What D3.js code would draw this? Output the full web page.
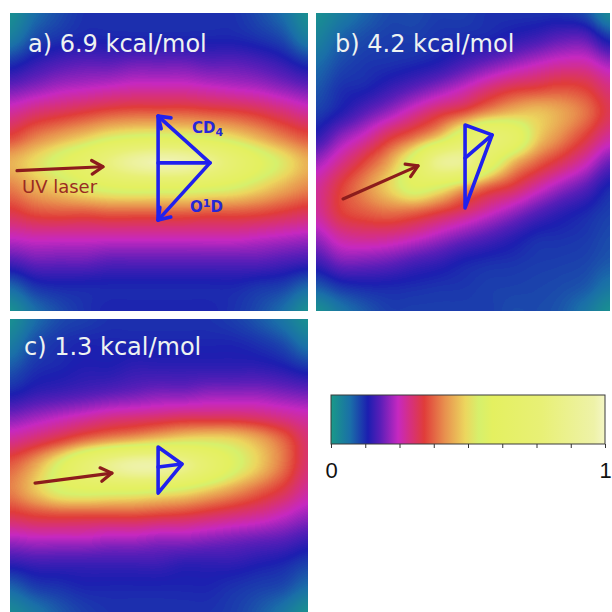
<!DOCTYPE html>
<html><head><meta charset="utf-8">
<script src="https://cdn.jsdelivr.net/npm/d3@7"></script>
<style>html,body{margin:0;padding:0;background:#fff;} svg{display:block;}</style>
</head><body>
<svg id="chart" width="612" height="612"></svg>
<script>
// ---------- data: normalised intensity (13 x 13 samples, rows top->bottom) ----------
const gridA = [
 [0.02,0.07,0.10,0.12,0.12,0.12,0.12,0.12,0.12,0.12,0.10,0.07,0.02],
 [0.05,0.10,0.12,0.13,0.13,0.13,0.13,0.13,0.13,0.13,0.12,0.10,0.05],
 [0.12,0.15,0.17,0.18,0.18,0.19,0.19,0.19,0.18,0.18,0.17,0.15,0.12],
 [0.19,0.21,0.23,0.24,0.25,0.26,0.26,0.26,0.25,0.24,0.23,0.21,0.19],
 [0.27,0.30,0.32,0.34,0.36,0.37,0.37,0.37,0.36,0.35,0.33,0.30,0.27],
 [0.35,0.40,0.44,0.48,0.53,0.56,0.57,0.56,0.54,0.50,0.45,0.40,0.36],
 [0.45,0.50,0.57,0.66,0.80,0.92,0.98,0.96,0.86,0.72,0.60,0.52,0.45],
 [0.40,0.45,0.49,0.54,0.58,0.60,0.60,0.60,0.58,0.55,0.50,0.45,0.41],
 [0.33,0.36,0.37,0.37,0.38,0.38,0.38,0.38,0.37,0.37,0.36,0.34,0.32],
 [0.25,0.26,0.26,0.26,0.26,0.26,0.26,0.26,0.26,0.26,0.25,0.24,0.23],
 [0.17,0.19,0.19,0.19,0.18,0.18,0.18,0.18,0.18,0.18,0.18,0.17,0.16],
 [0.08,0.12,0.13,0.13,0.13,0.13,0.13,0.13,0.13,0.13,0.12,0.11,0.08],
 [0.02,0.07,0.10,0.12,0.13,0.13,0.13,0.13,0.13,0.12,0.10,0.07,0.02]
];
const gridB = [
 [0.02,0.05,0.08,0.10,0.10,0.11,0.11,0.12,0.12,0.12,0.12,0.10,0.03],
 [0.04,0.08,0.10,0.11,0.11,0.12,0.125,0.13,0.145,0.16,0.18,0.18,0.12],
 [0.07,0.10,0.115,0.12,0.127,0.14,0.165,0.19,0.215,0.24,0.26,0.26,0.22],
 [0.09,0.12,0.13,0.154,0.18,0.21,0.245,0.29,0.325,0.34,0.355,0.34,0.29],
 [0.11,0.14,0.18,0.22,0.27,0.32,0.36,0.42,0.46,0.47,0.44,0.39,0.32],
 [0.15,0.21,0.26,0.33,0.39,0.48,0.63,0.73,0.66,0.49,0.41,0.34,0.27],
 [0.22,0.28,0.35,0.44,0.60,0.86,0.88,0.65,0.47,0.38,0.32,0.26,0.19],
 [0.27,0.34,0.41,0.49,0.58,0.55,0.46,0.38,0.33,0.27,0.22,0.18,0.13],
 [0.27,0.34,0.37,0.39,0.38,0.345,0.305,0.26,0.22,0.18,0.15,0.13,0.11],
 [0.22,0.27,0.285,0.28,0.26,0.23,0.20,0.175,0.15,0.127,0.122,0.115,0.10],
 [0.16,0.20,0.20,0.19,0.17,0.155,0.135,0.125,0.12,0.113,0.11,0.105,0.09],
 [0.09,0.12,0.13,0.13,0.125,0.12,0.117,0.11,0.108,0.105,0.10,0.09,0.06],
 [0.02,0.06,0.09,0.11,0.11,0.11,0.11,0.11,0.10,0.10,0.09,0.06,0.02]
];
const gridC = [
 [0.02,0.07,0.10,0.11,0.12,0.12,0.12,0.12,0.12,0.11,0.09,0.06,0.02],
 [0.05,0.10,0.12,0.13,0.13,0.13,0.13,0.13,0.13,0.13,0.12,0.10,0.06],
 [0.09,0.12,0.13,0.14,0.14,0.15,0.15,0.15,0.15,0.15,0.15,0.14,0.12],
 [0.13,0.15,0.16,0.17,0.18,0.19,0.20,0.20,0.21,0.21,0.21,0.20,0.19],
 [0.20,0.22,0.24,0.26,0.28,0.29,0.30,0.31,0.31,0.31,0.30,0.28,0.26],
 [0.28,0.31,0.35,0.40,0.44,0.47,0.50,0.52,0.52,0.50,0.45,0.38,0.30],
 [0.37,0.44,0.56,0.72,0.86,0.95,0.95,0.85,0.70,0.57,0.48,0.39,0.30],
 [0.40,0.47,0.55,0.58,0.58,0.58,0.56,0.53,0.48,0.43,0.38,0.33,0.27],
 [0.33,0.35,0.36,0.36,0.36,0.36,0.35,0.34,0.32,0.30,0.28,0.25,0.22],
 [0.23,0.24,0.24,0.24,0.23,0.23,0.22,0.22,0.21,0.20,0.19,0.18,0.16],
 [0.15,0.16,0.16,0.16,0.16,0.16,0.16,0.15,0.15,0.15,0.14,0.13,0.11],
 [0.08,0.11,0.12,0.13,0.13,0.13,0.13,0.13,0.13,0.12,0.11,0.10,0.07],
 [0.03,0.06,0.09,0.11,0.12,0.12,0.12,0.12,0.12,0.11,0.09,0.06,0.02]
];
const panelTitles = ["a) 6.9 kcal/mol", "b) 4.2 kcal/mol", "c) 1.3 kcal/mol"];
// colour map
const stopValues = [0.00, 0.07, 0.135, 0.18, 0.245, 0.29, 0.34, 0.415, 0.49, 0.54, 0.59, 0.77, 0.96, 1.00];
const stopColors = ["#199a88","#1a6fa8","#1c1eb0","#5a1eb8","#c628c0","#d6307e","#e03c3a","#e8904e","#ecd65e","#d6f06c","#e4f060","#e8f076","#eef2a8","#f4f6c6"];
const colorbarTicks = [0, 0.125, 0.25, 0.375, 0.5, 0.625, 0.75, 0.875, 1];
const colorbarLabels = [0, 1];
// annotations, in percent of each panel
const laserArrows = [
 [[2.35,52.9],[31.2,51.6]],
 [[9.2,62.4],[34.7,51.3]],
 [[8.4,56.0],[34.2,52.6]]
];
const diagramA = {top:[49.7,34.6], bottom:[49.7,69.5], right:[67.1,50.3], mid:[49.7,50.3]};
const diagramB = {top:[50.7,37.6], right:[59.9,40.9], bottom:[50.7,65.4], inner:[50.7,48.7]};
const diagramC = {top:[49.7,43.7], right:[57.7,49.5], bottom:[49.7,59.4], inner:[49.7,50.5]};

// ---------- layout ----------
const panels = [
 {grid:gridA, x0:10, x1:308, y0:13, y1:311},
 {grid:gridB, x0:316, x1:610, y0:13, y1:311},
 {grid:gridC, x0:10, x1:308, y0:319, y1:612}
];
const svg = d3.select("#chart");
const color = d3.scaleLinear().domain(stopValues).range(stopColors).interpolate(d3.interpolateRgb).clamp(true);
const lut = d3.range(256).map(i => d3.rgb(color(i/255)));

function cr(p0,p1,p2,p3,t){
  return 0.5*((2*p1) + (-p0+p2)*t + (2*p0-5*p1+4*p2-p3)*t*t + (-p0+3*p1-3*p2+p3)*t*t*t);
}
function sample(grid, fx, fy){
  const ny = grid.length, nx = grid[0].length;
  const cx = i => Math.max(0, Math.min(nx-1, i)), cy = j => Math.max(0, Math.min(ny-1, j));
  const gx = fx*(nx-1), gy = fy*(ny-1);
  const ix = Math.min(Math.floor(gx), nx-2), iy = Math.min(Math.floor(gy), ny-2);
  const tx = gx-ix, ty = gy-iy;
  const r = [];
  for (let m=-1; m<=2; m++){
    const row = grid[cy(iy+m)];
    r.push(cr(row[cx(ix-1)], row[ix], row[ix+1], row[cx(ix+2)], tx));
  }
  return cr(r[0], r[1], r[2], r[3], ty);
}

panels.forEach(p => {
  const w = Math.round(p.x1-p.x0), h = Math.round(p.y1-p.y0);
  const cv = document.createElement("canvas"); cv.width = w; cv.height = h;
  const ctx = cv.getContext("2d"); const img = ctx.createImageData(w, h);
  for (let y=0; y<h; y++){
    for (let x=0; x<w; x++){
      let v = sample(p.grid, x/(w-1), y/(h-1));
      v = Math.max(0, Math.min(1, v));
      const c = lut[Math.round(v*255)];
      const k = (y*w+x)*4;
      img.data[k]=c.r; img.data[k+1]=c.g; img.data[k+2]=c.b; img.data[k+3]=255;
    }
  }
  ctx.putImageData(img, 0, 0);
  svg.append("image").attr("x", p.x0).attr("y", p.y0).attr("width", w).attr("height", h)
     .attr("preserveAspectRatio","none").attr("href", cv.toDataURL());
  p.sx = d3.scaleLinear().domain([0,100]).range([p.x0, p.x1]);
  p.sy = d3.scaleLinear().domain([0,100]).range([p.y0, p.y1]);
});

// titles
const titlePos = [[28,52],[335,52],[24,355]];
panels.forEach((p,i) => {
  svg.append("text").attr("x", titlePos[i][0]).attr("y", titlePos[i][1])
    .attr("font-family","DejaVu Sans, Verdana, sans-serif").attr("font-size",24)
    .attr("fill","#eef3f1").text(panelTitles[i]);
});

function head(g, tip, from, len, ang, col, sw){
  const a = Math.atan2(from[1]-tip[1], from[0]-tip[0]);
  const p1 = [tip[0]+len*Math.cos(a+ang), tip[1]+len*Math.sin(a+ang)];
  const p2 = [tip[0]+len*Math.cos(a-ang), tip[1]+len*Math.sin(a-ang)];
  g.append("path").attr("d", d3.line()([p1, tip, p2])).attr("fill","none")
    .attr("stroke", col).attr("stroke-width", sw).attr("stroke-linecap","round").attr("stroke-linejoin","round");
}

// laser arrows
const red = "#8c1c1c";
panels.forEach((p,i) => {
  const pts = laserArrows[i].map(d => [p.sx(d[0]), p.sy(d[1])]);
  const g = svg.append("g");
  g.append("path").attr("d", d3.line()(pts)).attr("stroke", red).attr("stroke-width",3.2)
    .attr("stroke-linecap","round").attr("fill","none");
  head(g, pts[1], pts[0], 13, 0.55, red, 3.2);
});
svg.append("text").attr("x", 22).attr("y", 193).attr("font-family","DejaVu Sans, Verdana, sans-serif")
  .attr("font-size",18).attr("fill","#9a2a22").text("UV laser");

// blue vector diagrams
const blue = "#2020ee";
function seg(g, a, b){
  g.append("path").attr("d", d3.line()([a,b])).attr("stroke", blue).attr("stroke-width",3.6)
   .attr("stroke-linecap","round").attr("fill","none");
}
{
  const p = panels[0], P = d => [p.sx(d[0]), p.sy(d[1])];
  const g = svg.append("g");
  seg(g, P(diagramA.top), P(diagramA.bottom));
  seg(g, P(diagramA.mid), P(diagramA.right));
  seg(g, P(diagramA.right), P(diagramA.top));
  seg(g, P(diagramA.right), P(diagramA.bottom));
  head(g, P(diagramA.top), P(diagramA.right), 13, 0.6, blue, 3.6);
  head(g, P(diagramA.bottom), P(diagramA.right), 13, 0.6, blue, 3.6);
  const t1 = svg.append("text").attr("x", p.sx(61.1)).attr("y", p.sy(40.3))
    .attr("font-family","DejaVu Sans, Verdana, sans-serif").attr("font-weight","bold").attr("font-size",15).attr("fill","#2626d8");
  t1.append("tspan").text("CD");
  t1.append("tspan").attr("font-size",11).attr("dy",3).text("4");
  const t2 = svg.append("text").attr("x", p.sx(60.4)).attr("y", p.sy(66.8))
    .attr("font-family","DejaVu Sans, Verdana, sans-serif").attr("font-weight","bold").attr("font-size",15).attr("fill","#2626d8");
  t2.append("tspan").text("O");
  t2.append("tspan").attr("font-size",11).attr("dy",-5).text("1");
  t2.append("tspan").attr("dy",5).text("D");
}
[[1, diagramB],[2, diagramC]].forEach(([k, d]) => {
  const p = panels[k], P = q => [p.sx(q[0]), p.sy(q[1])];
  const g = svg.append("g");
  g.append("path").attr("d", d3.line()([P(d.top), P(d.right), P(d.bottom)]) + "Z")
    .attr("fill","none").attr("stroke", blue).attr("stroke-width",3.6).attr("stroke-linejoin","round");
  seg(g, P(d.right), P(d.inner));
});

// colour bar
const cbX = d3.scaleLinear().domain([0,1]).range([331, 605]);
const cbY0 = 395, cbY1 = 444;
const grad = svg.append("defs").append("linearGradient").attr("id","cbgrad")
  .attr("x1","0%").attr("x2","100%").attr("y1","0%").attr("y2","0%");
stopValues.forEach((v,i) => grad.append("stop").attr("offset", (v*100)+"%").attr("stop-color", stopColors[i]));
svg.append("rect").attr("x", cbX(0)).attr("y", cbY0).attr("width", cbX(1)-cbX(0)).attr("height", cbY1-cbY0)
  .attr("fill","url(#cbgrad)").attr("stroke","#3a3a3a").attr("stroke-width",1);
const axis = d3.axisBottom(cbX).tickValues(colorbarTicks).tickSize(4).tickPadding(14)
  .tickFormat(d => colorbarLabels.includes(d) ? String(d) : "");
const ag = svg.append("g").attr("transform", `translate(0,${cbY1})`).call(axis);
ag.select(".domain").remove();
ag.selectAll(".tick line").attr("stroke","#333");
ag.selectAll(".tick text").attr("font-family","Liberation Sans, Arial, sans-serif").attr("font-size",22).attr("fill","#111");
</script>
</body></html>
